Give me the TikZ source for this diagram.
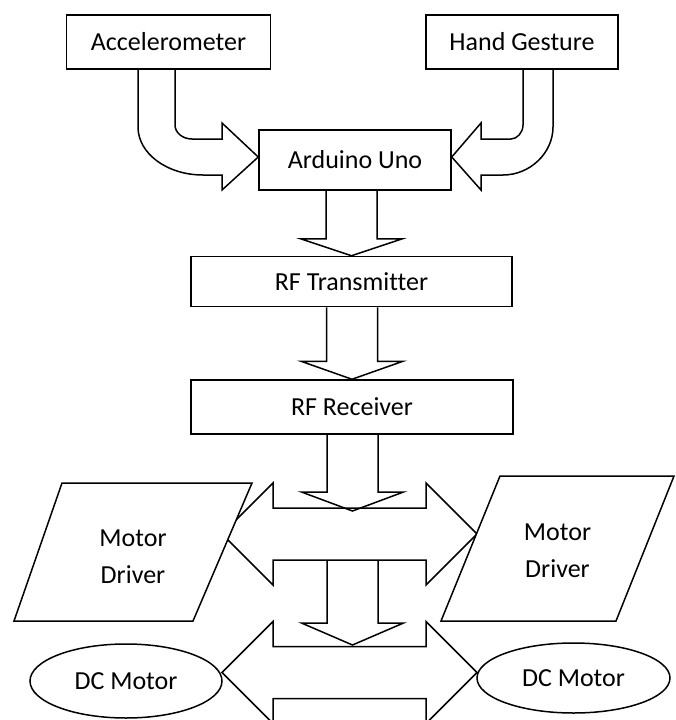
\documentclass[tikz,border=0pt]{standalone}
\usepackage{fontspec}
\setmainfont[Ligatures={NoCommon}]{Carlito}
\usetikzlibrary{shapes.geometric,calc}
\newcommand\blkdown[3]{\draw[blk] let \p1=(#1),\p2=(#2) in
  (\x2-25.5pt,\y1) -- (\x2-25.5pt,\y2+#3) -- (\x2-51pt,\y2+#3) -- (\p2) --
  (\x2+51pt,\y2+#3) -- (\x2+25.5pt,\y2+#3) -- (\x2+25.5pt,\y1);}
\newcommand\blkboth[2]{\draw[blk] let \p1=(#1),\p2=(#2) in
  (\p1) -- (\x1+51pt,\y1+51pt) -- (\x1+51pt,\y1+26pt) -- (\x2-51pt,\y1+26pt) --
  (\x2-51pt,\y1+51pt) -- (\p2) -- (\x2-51pt,\y1-51pt) -- (\x2-51pt,\y1-26pt) --
  (\x1+51pt,\y1-26pt) -- (\x1+51pt,\y1-51pt) -- cycle;}
\begin{document}
\begin{tikzpicture}[x=1pt,y=-1pt,
  blk/.style={draw=black, line width=1.5pt, line join=miter},
  box/.style={draw=black, line width=1.5pt, rectangle, inner sep=0pt,
    font=\fontsize{26}{37}\selectfont},
  lbl/.style={inner sep=0pt, align=center, font=\fontsize{26}{37}\selectfont},
  oval/.style={draw=black, fill=white, line width=1.5pt, ellipse, inner sep=0pt,
    font=\fontsize{26}{37}\selectfont},
  pgram/.style={draw=black, fill=white, line width=1.5pt, line join=miter}]
\useasboundingbox (0,0) rectangle (676,720);
\clip (0,0) rectangle (676,720);

% boxes
\node[box, minimum width=204pt, minimum height=54pt] (acc) at (168.5,42) {Accelerometer};
\node[box, minimum width=192pt, minimum height=54pt] (hand) at (522,42) {Hand Gesture};
\node[box, minimum width=192pt, minimum height=60pt] (ard) at (355,160) {Arduino Uno};
\node[box, minimum width=321pt, minimum height=50pt] (rft) at (351.5,281.5) {RF Transmitter};
\node[box, minimum width=322pt, minimum height=54pt] (rfr) at (352,407) {RF Receiver};

% helper coordinates
\coordinate (t3) at (352.5,511);
\coordinate (s4) at (352.5,560);
\coordinate (t4) at (352.5,645);
\coordinate (da1l) at (222,534);
\coordinate (da1r) at (477,534);
\coordinate (da2l) at (222,672.5);
\coordinate (da2r) at (477,672.5);

% bent arrows into Arduino
\draw[blk] (175,69) -- (175,125) .. controls (175,132.7) and (182.6,139) .. (192,139)
  -- (222,139) -- (222,123) -- (ard.west |- 0,157) -- (222,190) -- (222,175) -- (203,175)
  .. controls (167,175) and (138,153.5) .. (138,127) -- (138,69);
\draw[blk] (523,69) -- (523,125) .. controls (523,132.7) and (517,139) .. (511,139)
  -- (481,139) -- (481,123) -- (ard.east |- 0,157) -- (481,190) -- (481,175) -- (503,175)
  .. controls (530,175) and (553,153) .. (553,127) -- (553,69);

% down arrows
\blkdown{ard.south}{rft.north}{17pt}
\blkdown{rft.south}{rfr.north}{18pt}
\blkdown{rfr.south}{t3}{19pt}
\blkdown{s4}{t4}{22pt}

% double arrows
\blkboth{da1l}{da1r}
\blkboth{da2l}{da2r}

% motor drivers
\draw[pgram] (62,483) -- (252,483) -- (193,621) -- (14,621) -- cycle;
\draw[pgram] (500,476) -- (674,476) -- (616,621) -- (441,621) -- cycle;
\node[lbl] (mdl) at (133,556.5) {Motor\\Driver};
\node[lbl] (mdr) at (557.5,551) {Motor\\Driver};

% DC motors
\node[oval, minimum width=192pt, minimum height=74pt] (dcl) at (126,681) {DC Motor};
\node[oval, minimum width=193pt, minimum height=70pt] (dcr) at (573.5,678) {DC Motor};
\end{tikzpicture}
\end{document}
